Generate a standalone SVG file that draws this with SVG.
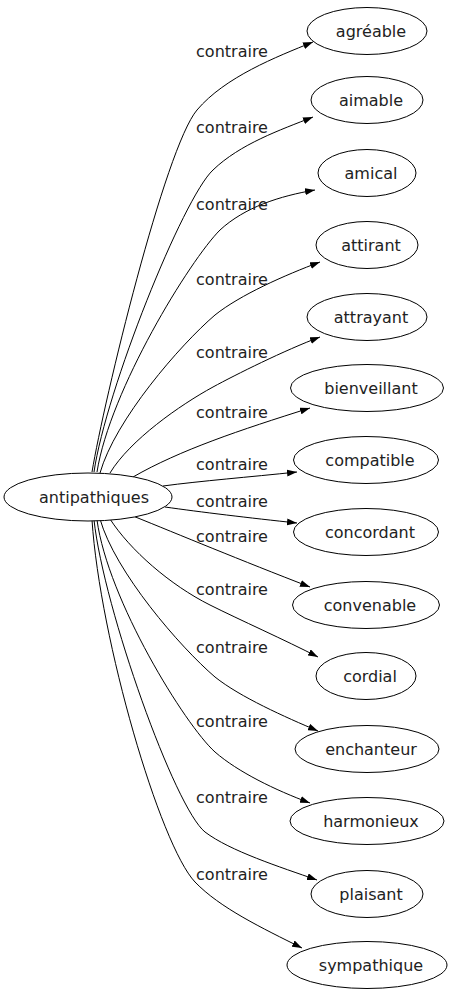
<svg xmlns="http://www.w3.org/2000/svg" width="453" height="995" viewBox="0 0 453 995">
<style>
.n ellipse{fill:#fff;stroke:#000;stroke-width:1}
text{font-family:"DejaVu Sans",Verdana,sans-serif;font-size:16px;fill:#222;text-anchor:middle}
.e path{fill:none;stroke:#000;stroke-width:1;marker-end:url(#a)}
</style>
<defs>
<marker id="a" markerWidth="10" markerHeight="7" refX="10" refY="3.5" orient="auto" markerUnits="userSpaceOnUse"><path d="M0,0L10,3.5L0,7z" fill="#000"/></marker>
</defs>
<rect width="453" height="995" fill="#fff"/>
<g id="edges" class="e">
<path d="M92,472 C104,400 165,148 197,110 C225,77 276,57 313,42"/>
<path d="M94,472 C106,390 183,198 213,170 C240,144 280,130 313,117"/>
<path d="M97,472 C110,390 190,260 220,230 C245,207 280,196 315,190"/>
<path d="M100,473 C115,420 180,345 215,315 C240,295 285,275 320,262"/>
<path d="M110,473 C130,440 180,405 213,387 C235,375 285,350 320,337"/>
<path d="M133,477 C180,450 240,430 310,408"/>
<path d="M163,486 C200,481 250,477 297,472"/>
<path d="M165,507 C200,512 250,518 297,523"/>
<path d="M133,516 C180,535 240,560 310,587"/>
<path d="M110,519 C130,550 170,585 210,605 C240,620 285,640 318,657"/>
<path d="M100,519 C115,572 180,647 215,677 C240,697 285,717 318,731"/>
<path d="M97,520 C108,600 185,725 215,752 C238,772 275,790 310,803"/>
<path d="M94,520 C104,610 175,808 205,832 C230,851 280,867 317,880"/>
<path d="M92,520 C100,640 160,845 195,882 C220,908 262,928 302,948"/>
</g>
<g id="labels">
<text x="232" y="57">contraire</text>
<text x="232" y="133">contraire</text>
<text x="232" y="210">contraire</text>
<text x="232" y="285">contraire</text>
<text x="232" y="358">contraire</text>
<text x="232" y="418">contraire</text>
<text x="232" y="470">contraire</text>
<text x="232" y="507">contraire</text>
<text x="232" y="542">contraire</text>
<text x="232" y="595">contraire</text>
<text x="232" y="653">contraire</text>
<text x="232" y="727">contraire</text>
<text x="232" y="803">contraire</text>
<text x="232" y="880">contraire</text>
</g>
<g id="antipathiques" class="n"><ellipse cx="88" cy="497" rx="84" ry="24"/><text x="94" y="503">antipathiques</text></g>
<g id="agreable" class="n"><ellipse cx="367" cy="31" rx="60" ry="23.5"/><text x="371" y="37">agréable</text></g>
<g id="aimable" class="n"><ellipse cx="367" cy="100" rx="56" ry="23.5"/><text x="371" y="106">aimable</text></g>
<g id="amical" class="n"><ellipse cx="367" cy="173" rx="49" ry="23.5"/><text x="371" y="179">amical</text></g>
<g id="attirant" class="n"><ellipse cx="367" cy="245" rx="51" ry="23.5"/><text x="371" y="251">attirant</text></g>
<g id="attrayant" class="n"><ellipse cx="367" cy="317" rx="60" ry="23.5"/><text x="371" y="323">attrayant</text></g>
<g id="bienveillant" class="n"><ellipse cx="367" cy="388" rx="76.5" ry="23.5"/><text x="371" y="394">bienveillant</text></g>
<g id="compatible" class="n"><ellipse cx="366" cy="460" rx="72.5" ry="23.5"/><text x="370" y="466">compatible</text></g>
<g id="concordant" class="n"><ellipse cx="366" cy="532" rx="72.5" ry="23.5"/><text x="370" y="538">concordant</text></g>
<g id="convenable" class="n"><ellipse cx="366" cy="605" rx="73.5" ry="23.5"/><text x="370" y="611">convenable</text></g>
<g id="cordial" class="n"><ellipse cx="366" cy="676" rx="50" ry="23.5"/><text x="370" y="682">cordial</text></g>
<g id="enchanteur" class="n"><ellipse cx="367" cy="749" rx="72" ry="23.5"/><text x="371" y="755">enchanteur</text></g>
<g id="harmonieux" class="n"><ellipse cx="367" cy="821" rx="77" ry="23.5"/><text x="371" y="827">harmonieux</text></g>
<g id="plaisant" class="n"><ellipse cx="367" cy="894" rx="56" ry="23.5"/><text x="371" y="900">plaisant</text></g>
<g id="sympathique" class="n"><ellipse cx="367" cy="965" rx="80" ry="23.5"/><text x="371" y="971">sympathique</text></g>
</svg>
